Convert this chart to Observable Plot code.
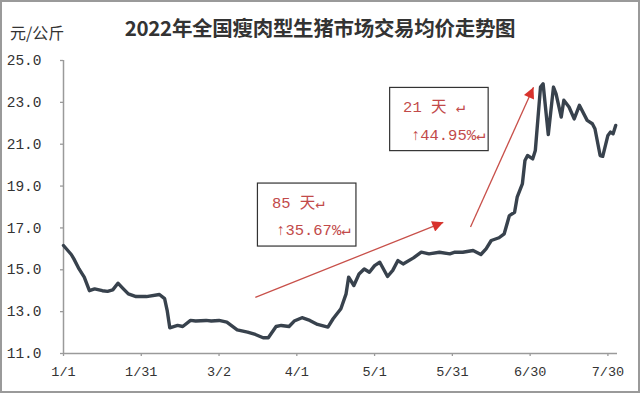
<!DOCTYPE html>
<html>
<head>
<meta charset="utf-8">
<script src="https://cdn.jsdelivr.net/npm/d3@7"></script>
<script src="https://cdn.jsdelivr.net/npm/@observablehq/plot@0.6"></script>
<style>
  html, body { margin: 0; padding: 0; background: #fff; }
  #wrap { position: relative; width: 640px; height: 395px; overflow: hidden; background: #fff; }
  #title { position: absolute; left: 0; width: 640px; top: 15px; text-align: center;
           font-family: "Noto Sans CJK SC", sans-serif; font-size: 20.5px; line-height: 24px;
           font-weight: 700; color: #333; letter-spacing: -0.3px; }
  #unit { position: absolute; left: 10px; top: 22px; font-family: "Noto Sans CJK SC", sans-serif;
          font-size: 16px; line-height: 20px; color: #333; }
  #chart { position: absolute; left: 0; top: 45px; }
  #frame { position: absolute; left: 0; top: 0; width: 640px; height: 393px; box-sizing: border-box;
           border: 2px solid #9a9a9a; pointer-events: none; }
</style>
</head>
<body>
<div id="wrap">
  <div id="title">2022年全国瘦肉型生猪市场交易均价走势图</div>
  <div id="unit">元/公斤</div>
  <div id="chart"></div>
  <div id="frame"></div>
</div>
<script>
// Day offset from 1 January 2022
const days = [0,3,4,6,8,10,12,15,17,19,21,23,25,28,32,37,39,40,41,44,
  46,49,51,55,57,60,63,67,71,74,77,79,82,84,87,89,92,95,98,102,
  104,107,109,110,112,114,116,118,120,122,125,127,129,131,135,138,141,145,149,151,
  154,158,161,163,165,168,170,172,174,175,177,178,179,181,182,184,185,187,189,190,
  192,193,195,197,199,202,204,205,207,208,210,211,212,213];
// Average price (yuan / kg)
const prices = [16.16,15.73,15.52,15.04,14.65,14.0,14.09,14.0,13.97,14.04,14.36,14.1,13.85,13.72,13.72,13.82,13.62,13.05,12.23,12.34,
  12.29,12.58,12.55,12.58,12.55,12.58,12.5,12.13,12.02,11.91,11.75,11.75,12.29,12.34,12.29,12.55,12.71,12.58,12.39,12.26,
  12.66,13.14,13.85,14.65,14.25,14.8,15.04,14.88,15.2,15.36,14.68,14.97,15.44,15.28,15.57,15.84,15.76,15.84,15.76,15.84,
  15.84,15.92,15.73,16.0,16.4,16.53,16.72,17.59,17.75,18.47,19.1,20.22,20.46,20.3,20.7,23.73,23.89,21.46,23.73,23.41,
  22.3,23.1,22.78,22.21,22.86,22.14,21.98,21.74,20.46,20.42,21.42,21.58,21.5,21.9];

const xTicks = [0,30,60,90,120,150,180,210];
const xTickLabels = ["1/1","1/31","3/2","4/1","5/1","5/31","6/30","7/30"];
const yTicks = [11,13,15,17,19,21,23,25];

// Annotation arrows (start and end in day / price)
const arrowStartDay = [74, 157];
const arrowStartPrice = [13.68, 17.04];
const arrowEndDay = [146.5, 181.3];
const arrowEndPrice = [17.27, 23.72];

// Annotation boxes
const boxDay1 = [75, 126];
const boxDay2 = [113, 164];
const boxPrice1 = [16.11, 20.67];
const boxPrice2 = [19.12, 23.69];

// Annotation texts
const noteText = ["85 天↵", "↑35.67%↵", "21 天 ↵", "↑44.95%↵"];
const noteDay = [80.4, 82, 131, 134];
const notePrice = [18.17, 16.88, 22.77, 21.46];

const rows = days.map((d, i) => ({day: d, price: prices[i]}));
const arrows = arrowStartDay.map((d, i) => ({x1: d, y1: arrowStartPrice[i], x2: arrowEndDay[i], y2: arrowEndPrice[i]}));
const boxes = boxDay1.map((d, i) => ({x1: d, x2: boxDay2[i], y1: boxPrice1[i], y2: boxPrice2[i]}));
const notes = noteText.map((t, i) => ({text: t, x: noteDay[i], y: notePrice[i]}));

const labelMap = new Map(xTicks.map((t, i) => [t, xTickLabels[i]]));

const chart = Plot.plot({
  width: 640,
  height: 350,
  marginLeft: 63,
  marginRight: 23,
  marginTop: 15,
  marginBottom: 42,
  style: {fontFamily: "'Liberation Mono', 'Noto Sans CJK SC', monospace", fontSize: "13.5px", color: "#333", background: "white"},
  x: {domain: [0, 213.7], ticks: xTicks, tickFormat: d => labelMap.get(d), tickSize: 3, tickPadding: 10, label: null},
  y: {domain: [11, 25], ticks: yTicks, tickFormat: d => d.toFixed(1), tickSize: 3, tickPadding: 19, label: null},
  marks: [
    Plot.ruleY([11], {stroke: "#9a9a9a", strokeWidth: 1.5}),
    Plot.ruleX([0], {stroke: "#9a9a9a", strokeWidth: 1.5}),
    Plot.line(rows, {x: "day", y: "price", stroke: "#38424d", strokeWidth: 3.4, strokeLinejoin: "round", strokeLinecap: "round"}),
    Plot.link(arrows, {x1: "x1", y1: "y1", x2: "x2", y2: "y2", stroke: "#c8504a", strokeWidth: 1.3}),
    Plot.rect(boxes, {x1: "x1", x2: "x2", y1: "y1", y2: "y2", fill: "white", stroke: "#333", strokeWidth: 1.2}),
    Plot.text(notes, {x: "x", y: "y", text: "text", textAnchor: "start", fill: "#c24a4a", fontSize: 15.5,
      fontFamily: "'Liberation Mono', 'Noto Sans CJK SC', monospace"})
  ]
});

document.getElementById("chart").appendChild(chart);

// style the axis ticks grey and add filled arrowheads to the annotation arrows
const svg = d3.select(chart);
svg.selectAll('[aria-label^="x-axis"] path, [aria-label^="x-axis"] line, [aria-label^="y-axis"] path, [aria-label^="y-axis"] line')
  .attr("stroke", "#9a9a9a").attr("stroke-width", 1.3);
svg.selectAll('[aria-label^="y-axis"] text').attr("font-size", "14.5px").style("font-size", "14.5px");
const defs = svg.append("defs");
defs.append("marker")
  .attr("id", "redhead")
  .attr("viewBox", "0 0 10 10")
  .attr("refX", 10).attr("refY", 5)
  .attr("markerUnits", "userSpaceOnUse")
  .attr("markerWidth", 13).attr("markerHeight", 11)
  .attr("orient", "auto")
  .append("path").attr("d", "M0,0L10,5L0,10Z").attr("fill", "#d8322c");
svg.selectAll('g[aria-label="link"] path, g[aria-label="link"] line').attr("marker-end", "url(#redhead)");
</script>
</body>
</html>
